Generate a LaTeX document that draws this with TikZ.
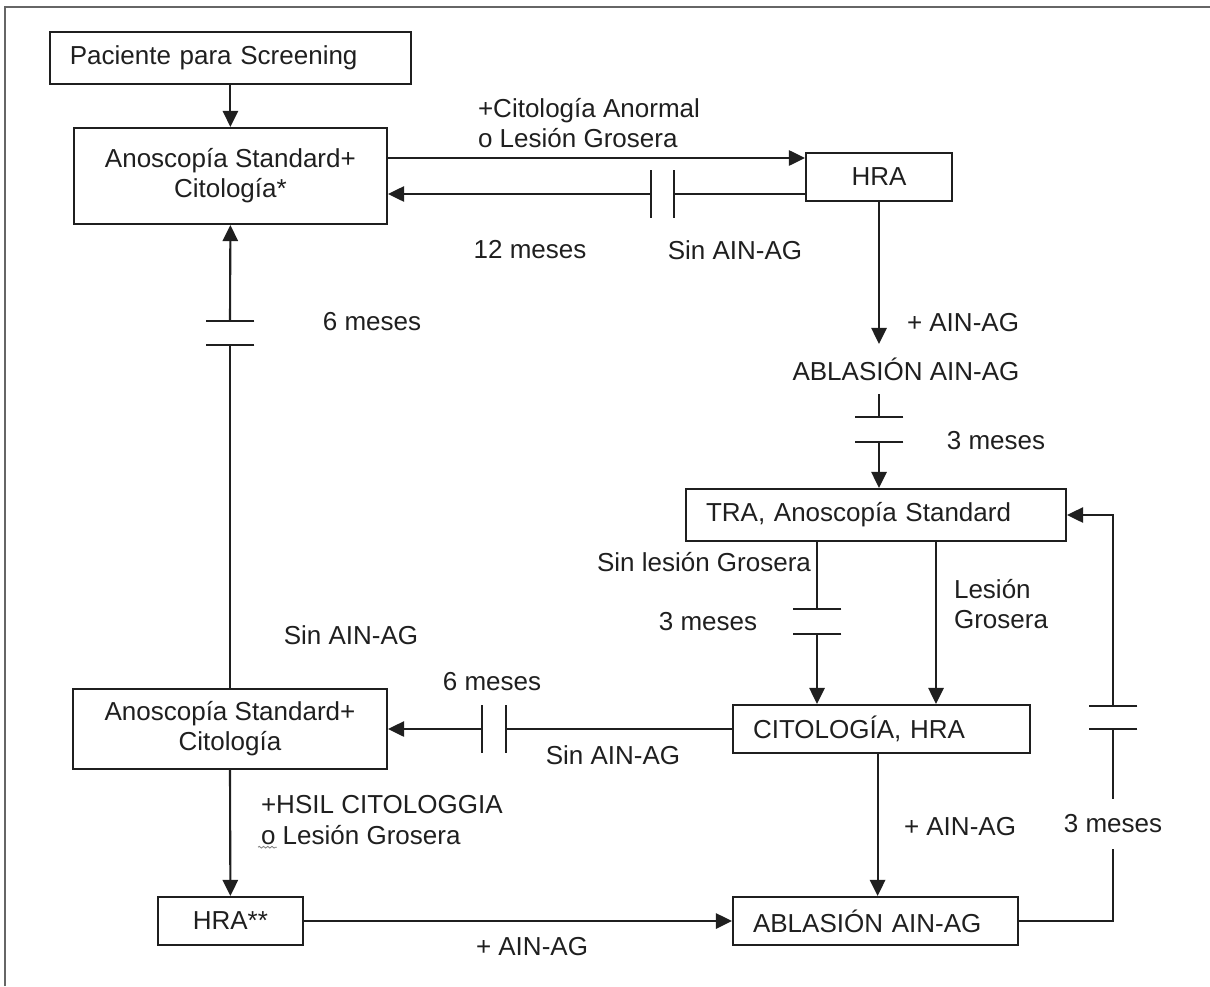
\documentclass[tikz,border=0pt]{standalone}
\usepackage{fontspec}
\setmainfont{Liberation Sans}
\usetikzlibrary{arrows.meta,decorations.pathmorphing}
\newcommand{\platev}[1]{\draw ([yshift=0.6cm]#1) -- ([yshift=-0.6cm]#1);}
\newcommand{\plateh}[1]{\draw ([xshift=0.61cm]#1) -- ([xshift=-0.61cm]#1);}

\begin{document}
\begin{tikzpicture}[>={Triangle[length=4mm,width=3.8mm]},line width=1.5pt,color=black!88,
  every node/.style={font=\fontsize{18.5}{21.5}\selectfont},
  caja/.style={draw,minimum height=1.2cm,inner xsep=0.5cm,align=center},
  cajal/.style={draw,minimum height=1.2cm,inner xsep=0.5cm,text width=#1,align=left},
  etq/.style={inner sep=0pt,align=left}]
  \useasboundingbox (0,0) rectangle (30.25,-24.65);
  \draw[black!60,line width=1.2pt] (0.125,-24.65) -- (0.125,-0.175) -- (30.25,-0.175);
  \node[cajal=8.03cm,minimum height=1.3cm] (pac) at (5.76,-1.45) {Paciente para Screening};
  \node[caja,minimum width=7.83cm,minimum height=2.4cm] (ano1) at (5.76,-4.4) {Anoscopía Standard+\\Citología*};
  \node[caja,minimum width=3.65cm] (hra) at (21.975,-4.425) {HRA};
  \node[minimum height=1.2cm] (abl1) at (22.65,-9.225) {ABLASIÓN AIN-AG};
  \node[cajal=8.5cm,minimum height=1.3cm] (tra) at (21.9,-12.875) {TRA, Anoscopía Standard};
  \node[cajal=6.43cm] (cito) at (22.04,-18.225) {CITOLOGÍA, HRA};
  \node[cajal=6.13cm] (abl2) at (21.89,-23.025) {ABLASIÓN AIN-AG};
  \node[caja,minimum width=7.85cm,minimum height=2cm] (ano2) at (5.75,-18.225) {Anoscopía Standard+\\Citología};
  \node[caja,minimum width=3.63cm] (hra2) at (5.76,-23.025) {HRA**};
  \coordinate (g1a) at (16.275,-4.85);
  \coordinate (g1b) at (16.85,-4.85);
  \coordinate (g2a) at (5.75,-8.025);
  \coordinate (g2b) at (5.75,-8.625);
  \coordinate (g3a) at (21.975,-10.425);
  \coordinate (g3b) at (21.975,-11.05);
  \coordinate (g4a) at (20.425,-15.225);
  \coordinate (g4b) at (20.425,-15.85);
  \coordinate (g5a) at (12.05,-18.225);
  \coordinate (g5b) at (12.65,-18.225);
  \coordinate (g6a) at (27.825,-17.65);
  \coordinate (g6b) at (27.825,-18.225);
  \draw[->] (pac.south) -- (ano1.north);
  \draw[->] ([yshift=0.45cm]ano1.east) -- ([yshift=0.45cm]ano1.east -| hra.west);
  \draw (hra.west |- g1b) -- (g1b);
  \draw[->] (g1a) -- (ano1.east |- g1a);
  \platev{g1a} \platev{g1b}
  \draw[->] (hra.south) -- (hra.south |- abl1.north);
  \draw (hra.south |- abl1.south) -- (g3a);
  \draw[->] (g3b) -- (g3b |- tra.north);
  \plateh{g3a} \plateh{g3b}
  \draw (ano2.north) -- (g2b);
  \draw[->] (g2a) -- (ano1.south);
  \plateh{g2a} \plateh{g2b}
  \draw (tra.south -| g4a) -- (g4a);
  \draw[->] (g4b) -- (g4b |- cito.north);
  \plateh{g4a} \plateh{g4b}
  \draw[->] ([xshift=1.5cm]tra.south) -- ([xshift=1.5cm]tra.south |- cito.north);
  \draw (cito.west) -- (g5b);
  \draw[->] (g5a) -- (ano2.east);
  \platev{g5a} \platev{g5b}
  \draw[->] (ano2.south) -- (hra2.north);
  \draw[->] (hra2.east) -- (hra2.east -| abl2.west);
  \draw[->] ([xshift=-0.1cm]cito.south) -- ([xshift=-0.1cm]cito.south |- abl2.north);
  \node[minimum height=1.2cm] (m3d) at (27.825,-20.6) {3 meses};
  \draw (abl2.east) -| (m3d.south);
  \draw (m3d.north) -- (g6b);
  \draw[->] (g6a) |- (tra.east);
  \plateh{g6a} \plateh{g6b}
  \node[etq,anchor=west] (anorm) at (11.925,-3.08) {+Citología Anormal\\o Lesión Grosera};
  \node (m12) at (13.25,-6.25) {12 meses};
  \node (sin1) at (18.375,-6.25) {Sin AIN-AG};
  \node (m6a) at (9.3,-8.05) {6 meses};
  \node (mas1) at (24.075,-8.075) {+ AIN-AG};
  \node (m3a) at (24.9,-11.025) {3 meses};
  \node[etq,anchor=east] (sinles) at (20.3,-14.05) {Sin lesión Grosera};
  \node (m3b) at (17.7,-15.55) {3 meses};
  \node[etq,anchor=west] (les) at (23.825,-15.1) {Lesión\\Grosera};
  \node (sin2) at (8.775,-15.875) {Sin AIN-AG};
  \node (m6b) at (12.3,-17.05) {6 meses};
  \node (sin3) at (15.325,-18.875) {Sin AIN-AG};
  \node[etq,anchor=west] (hsil) at (6.5,-20.5) {+HSIL CITOLOGGIA\\o Lesión Grosera};
  \node (mas2) at (24.0,-20.675) {+ AIN-AG};
  \node (mas3) at (13.3,-23.675) {+ AIN-AG};
  \draw[gray,line width=0.6pt,decorate,decoration={snake,amplitude=0.6pt,segment length=3pt}] (6.45,-21.18) -- (6.92,-21.18);
\end{tikzpicture}
\end{document}
